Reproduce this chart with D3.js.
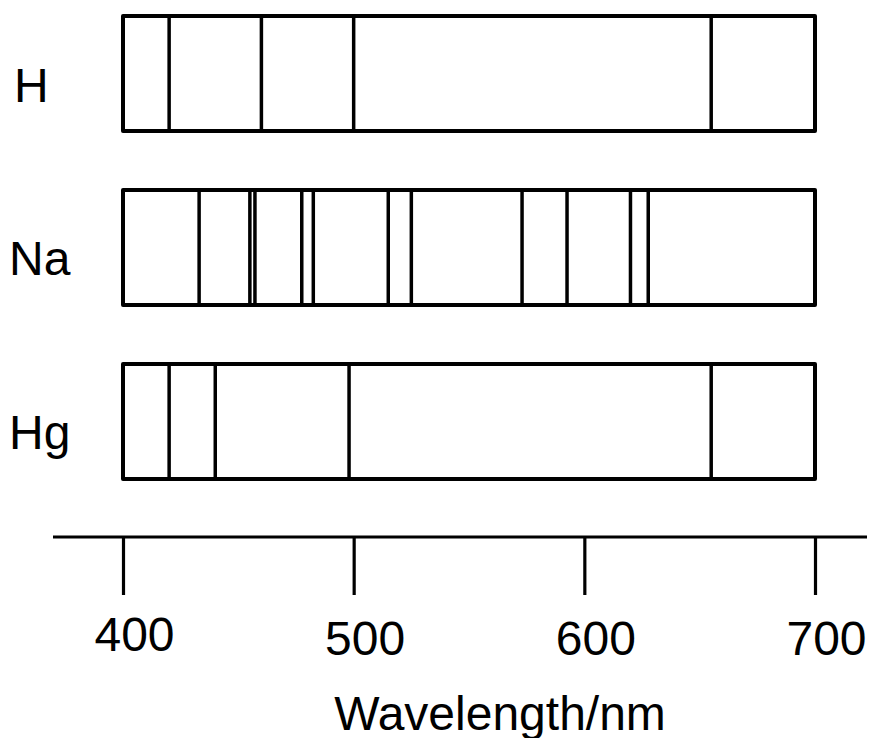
<!DOCTYPE html>
<html>
<head>
<meta charset="utf-8">
<script src="https://cdn.jsdelivr.net/npm/d3@7"></script>
<style>
  html, body { margin: 0; padding: 0; background: #fff; }
  svg { display: block; }
  text { font-family: "Liberation Sans", Arial, Helvetica, sans-serif; fill: #000; }
</style>
</head>
<body>
<svg id="chart" width="870" height="738"></svg>
<script>
// Emission line spectra (wavelengths in nm)
const elements = ["H", "Na", "Hg"];
const hLines = [420, 460, 500, 655];
const naLines = [433, 455, 457.2, 477.5, 482.5, 515, 525, 573, 592.5, 620, 627.7];
const hgLines = [420, 440, 498, 655];
const tickValues = [400, 500, 600, 700];
const wavelengthRange = [400, 700];
const axisTitle = "Wavelength/nm";

const spectra = { H: hLines, Na: naLines, Hg: hgLines };

const svg = d3.select("#chart");

const x = d3.scaleLinear().domain(wavelengthRange).range([123, 815]);
const y = d3.scaleBand().domain(elements).range([16, 479]).paddingInner(0.339);

// One strip per element
const rows = svg.selectAll("g.row")
  .data(elements)
  .join("g")
  .attr("class", "row")
  .attr("transform", d => `translate(0,${y(d)})`);

rows.append("rect")
  .attr("x", x(wavelengthRange[0]))
  .attr("y", 0)
  .attr("width", x(wavelengthRange[1]) - x(wavelengthRange[0]))
  .attr("height", y.bandwidth())
  .attr("fill", "none")
  .attr("stroke", "#000")
  .attr("stroke-width", 4)
  .attr("stroke-linejoin", "round");

rows.selectAll("line.spec")
  .data(d => spectra[d])
  .join("line")
  .attr("class", "spec")
  .attr("x1", d => x(d))
  .attr("x2", d => x(d))
  .attr("y1", 0)
  .attr("y2", y.bandwidth())
  .attr("stroke", "#000")
  .attr("stroke-width", 3.5);

rows.append("text")
  .attr("x", d => d === "H" ? 14 : 9)
  .attr("y", y.bandwidth() / 2 + 28)
  .attr("font-size", 48)
  .text(d => d);

// Wavelength axis
const axisY = 537;
svg.append("line")
  .attr("x1", 53)
  .attr("x2", 867)
  .attr("y1", axisY)
  .attr("y2", axisY)
  .attr("stroke", "#000")
  .attr("stroke-width", 3.2);

const axis = d3.axisBottom(x)
  .tickValues(tickValues)
  .tickFormat(d3.format("d"))
  .tickSize(58)
  .tickPadding(26);

const gAxis = svg.append("g")
  .attr("transform", `translate(0,${axisY})`)
  .call(axis);

gAxis.select(".domain").remove();
gAxis.selectAll(".tick line")
  .attr("stroke", "#000")
  .attr("stroke-width", 3.2);
gAxis.selectAll(".tick text")
  .attr("font-family", "Liberation Sans, Arial, sans-serif")
  .attr("font-size", 48)
  .attr("fill", "#000")
  .attr("dx", 11)
  .attr("dy", d => d === 400 ? "0.62em" : "0.71em");

svg.append("text")
  .attr("x", 500)
  .attr("y", 730)
  .attr("text-anchor", "middle")
  .attr("font-size", 48)
  .text(axisTitle);
</script>
</body>
</html>
